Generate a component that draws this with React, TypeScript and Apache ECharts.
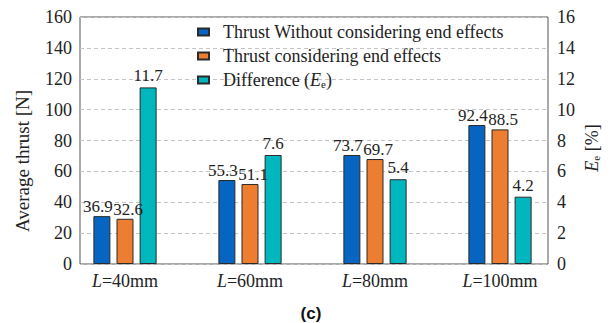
import React, { useEffect, useRef } from "react";
import * as echarts from "echarts";

const categories = ["L=40mm", "L=60mm", "L=80mm", "L=100mm"];
const seriesNames = [
  "Thrust Without considering end effects",
  "Thrust considering end effects",
  "Difference (Ee)",
];
// bar heights as drawn in the picture
const thrustWithout = [31.0, 54.4, 70.6, 90.0];
const thrustWith = [29.3, 51.8, 68.0, 87.2];
const difference = [11.44, 7.06, 5.49, 4.36];
// printed value labels
const labelsWithout = ["36.9", "55.3", "73.7", "92.4"];
const labelsWith = ["32.6", "51.1", "69.7", "88.5"];
const labelsDiff = ["11.7", "7.6", "5.4", "4.2"];
const leftTicks = { min: 0, max: 160, interval: 20 };
const rightTicks = { min: 0, max: 16, interval: 2 };

const SERIF = "'Liberation Serif', 'Times New Roman', serif";

export default function App() {
  const ref = useRef<HTMLDivElement>(null);
  useEffect(() => {
    if (!ref.current) return;
    const chart = echarts.init(ref.current, null, { renderer: "svg" });
    const baseLabel = {
      show: true,
      position: "top",
      distance: 1,
      fontFamily: SERIF,
      fontSize: 17,
      color: "#222",
    };
    const barCommon = {
      type: "bar",
      barWidth: 17,
      barGap: "36%",
      xAxisIndex: 1,
    };
    chart.setOption({
      animation: false,
      backgroundColor: "#fff",
      grid: [
        { left: 80, right: 62, top: 17, bottom: 59, show: true, borderColor: "#555", borderWidth: 1, backgroundColor: "transparent" },
        { left: 62.5, right: 47.5, top: 17, bottom: 59 },
      ],
      xAxis: [
        {
          type: "category",
          gridIndex: 0,
          data: categories,
          axisLine: { show: false },
          axisTick: { show: false },
          axisLabel: { show: false },
        },
        {
          type: "category",
          gridIndex: 1,
          data: categories,
          axisLine: { show: false },
          axisTick: { show: false },
          axisLabel: {
            margin: 8,
            formatter: (v: string) => `{i|L}{n|${v.slice(1)}}`,
            rich: {
              i: { fontStyle: "italic", fontFamily: SERIF, fontSize: 18, color: "#222" },
              n: { fontFamily: SERIF, fontSize: 18, color: "#222" },
            },
          },
        },
      ],
      yAxis: [
        {
          type: "value",
          gridIndex: 0,
          ...leftTicks,
          axisLine: { show: false },
          axisTick: { show: false },
          axisLabel: { fontFamily: SERIF, fontSize: 18, color: "#222", margin: 8 },
          splitLine: { show: true, lineStyle: { type: [4, 3], color: "#c4c4c4", width: 1 } },
        },
        {
          type: "value",
          gridIndex: 0,
          position: "right",
          ...rightTicks,
          axisLine: { show: false },
          axisTick: { show: false },
          axisLabel: { fontFamily: SERIF, fontSize: 18, color: "#222", margin: 9 },
          splitLine: { show: false },
        },
        { type: "value", gridIndex: 1, ...leftTicks, show: false },
        { type: "value", gridIndex: 1, ...rightTicks, show: false },
      ],
      legend: {
        orient: "vertical",
        left: 192,
        top: 18,
        itemWidth: 11,
        itemHeight: 7,
        itemGap: 6,
        icon: "rect",
        data: seriesNames,
        formatter: (name: string) =>
          name === seriesNames[2] ? "{t|Difference (}{i|E}{s|e}{t|)}" : `{t|${name}}`,
        textStyle: {
          fontFamily: SERIF,
          fontSize: 18,
          color: "#222",
          padding: [0, 0, 0, 9],
          rich: {
            t: { fontFamily: SERIF, fontSize: 18, color: "#222" },
            i: { fontStyle: "italic", fontFamily: SERIF, fontSize: 18, color: "#222" },
            s: { fontFamily: SERIF, fontSize: 11, color: "#222", verticalAlign: "bottom", padding: [7, 0, 0, 0] },
          },
        },
      },
      series: [
        {
          ...barCommon,
          name: seriesNames[0],
          yAxisIndex: 2,
          data: thrustWithout,
          itemStyle: { color: "#0565C1", borderColor: "#2a2a2a", borderWidth: 1 },
          label: { ...baseLabel, offset: [-4, 0], formatter: (p: any) => labelsWithout[p.dataIndex] },
        },
        {
          ...barCommon,
          name: seriesNames[1],
          yAxisIndex: 2,
          data: thrustWith,
          itemStyle: { color: "#ED7D31", borderColor: "#2a2a2a", borderWidth: 1 },
          label: { ...baseLabel, offset: [3, 0], formatter: (p: any) => labelsWith[p.dataIndex] },
        },
        {
          ...barCommon,
          name: seriesNames[2],
          yAxisIndex: 3,
          data: difference,
          itemStyle: { color: "#00B7BD", borderColor: "#2a2a2a", borderWidth: 1 },
          label: { ...baseLabel, distance: 3, formatter: (p: any) => labelsDiff[p.dataIndex] },
        },
      ],
      graphic: [
        {
          type: "text",
          x: 22,
          y: 161,
          rotation: Math.PI / 2,
          style: {
            text: "Average thrust [N]",
            fontFamily: SERIF,
            fontSize: 19,
            fill: "#222",
            align: "center",
            verticalAlign: "middle",
          },
        },
        {
          type: "text",
          x: 592,
          y: 148,
          rotation: Math.PI / 2,
          style: {
            text: "{i|E}{s|e}{t| [%]}",
            align: "center",
            verticalAlign: "middle",
            rich: {
              i: { fontStyle: "italic", fontFamily: SERIF, fontSize: 18, fill: "#222" },
              s: { fontFamily: SERIF, fontSize: 11, fill: "#222", verticalAlign: "bottom", padding: [7, 0, 0, 0] },
              t: { fontFamily: SERIF, fontSize: 18, fill: "#222" },
            },
          },
        },
        {
          type: "text",
          x: 311,
          y: 313,
          style: {
            text: "(c)",
            fontFamily: "'Liberation Sans', Arial, sans-serif",
            fontWeight: "bold",
            fontSize: 17,
            fill: "#111",
            align: "center",
            verticalAlign: "middle",
          },
        },
      ],
    });
    return () => chart.dispose();
  }, []);
  return (
    <div
      ref={ref}
      style={{ position: "absolute", left: 0, top: 0, width: 610, height: 323 }}
    />
  );
}
